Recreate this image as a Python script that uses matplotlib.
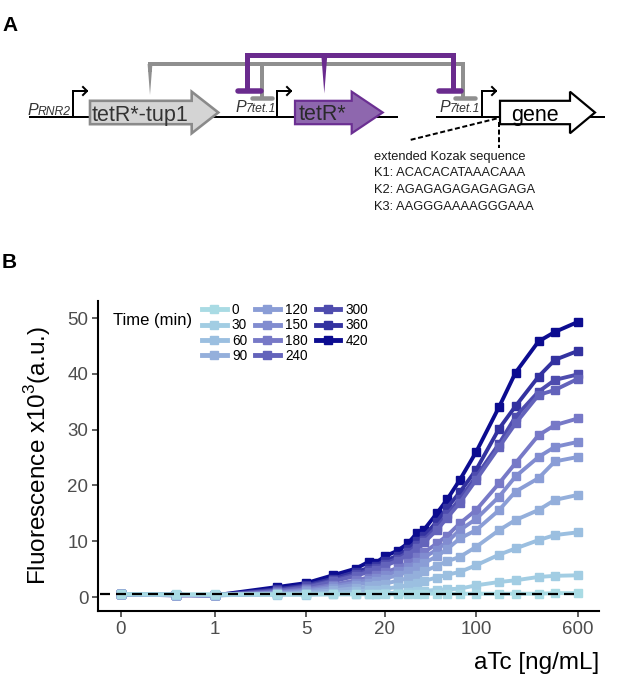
import matplotlib
matplotlib.use('Agg')
import matplotlib.pyplot as plt
from matplotlib.patches import Polygon
from matplotlib.lines import Line2D
from matplotlib.ticker import NullLocator

plt.rcParams['font.family'] = ['Liberation Sans', 'DejaVu Sans']

# ---------------- panel B data ----------------
atc = [0, 0.5, 1, 3, 5, 8, 12, 15, 17, 20, 25, 30, 35, 40, 50, 60, 75, 100, 150, 200, 300, 400, 600]
zero_pos = 0.19      # where the 0 ng/mL dose sits on the log axis
times = [0, 30, 60, 90, 120, 150, 180, 240, 300, 360, 420]

f0   = [0.5, 0.5, 0.5, 0.5, 0.5, 0.5, 0.5, 0.5, 0.5, 0.5, 0.5, 0.5, 0.5, 0.6, 0.6, 0.6, 0.6, 0.6, 0.6, 0.6, 0.6, 0.7, 0.7]
f30  = [0.5, 0.4, 0.4, 0.4, 0.4, 0.5, 0.5, 0.6, 0.6, 0.7, 0.8, 0.9, 1.0, 1.1, 1.3, 1.4, 1.5, 2.1, 2.7, 3.0, 3.6, 3.8, 3.9]
f60  = [0.5, 0.4, 0.3, 0.5, 0.6, 0.8, 1.0, 1.2, 1.3, 1.5, 1.8, 2.1, 2.5, 2.9, 3.5, 4.0, 4.5, 5.7, 7.6, 8.7, 10.2, 11.1, 11.6]
f90  = [0.5, 0.4, 0.3, 0.6, 0.8, 1.2, 1.6, 1.9, 2.1, 2.4, 2.9, 3.4, 4.0, 4.6, 5.6, 6.4, 7.2, 9.0, 12.0, 13.8, 15.6, 17.4, 18.3]
f120 = [0.5, 0.4, 0.3, 0.7, 1.0, 1.6, 2.2, 2.6, 2.9, 3.3, 3.9, 4.6, 5.4, 6.1, 7.3, 8.6, 10.5, 12.0, 15.6, 18.9, 21.3, 24.3, 25.1]
f150 = [0.5, 0.4, 0.3, 0.8, 1.2, 1.9, 2.6, 3.1, 3.4, 3.9, 4.6, 5.4, 6.3, 7.1, 8.5, 9.9, 12.0, 14.0, 18.0, 21.6, 25.1, 26.9, 27.8]
f180 = [0.5, 0.4, 0.3, 0.9, 1.4, 2.2, 3.0, 3.5, 3.9, 4.4, 5.2, 6.1, 7.1, 8.0, 9.6, 11.0, 13.2, 15.6, 20.4, 24.0, 29.0, 30.8, 32.0]
f240 = [0.5, 0.4, 0.3, 1.1, 1.7, 2.8, 3.8, 4.5, 4.9, 5.6, 6.5, 7.6, 8.8, 9.8, 12.0, 14.2, 16.9, 21.0, 26.9, 31.1, 36.2, 37.1, 39.1]
f300 = [0.5, 0.4, 0.3, 1.2, 1.9, 3.0, 4.1, 4.8, 5.2, 6.0, 6.9, 8.0, 9.3, 10.3, 12.6, 14.8, 17.6, 21.6, 27.5, 32.3, 36.8, 38.9, 39.9]
f360 = [0.5, 0.4, 0.3, 1.4, 2.1, 3.3, 4.5, 5.2, 5.6, 6.5, 7.4, 8.6, 10.0, 11.0, 13.5, 16.0, 18.8, 22.8, 30.2, 34.2, 39.5, 42.5, 44.1]
f420 = [0.5, 0.3, 0.3, 1.8, 2.5, 3.9, 5.1, 6.3, 6.1, 7.3, 8.3, 9.6, 11.4, 12.1, 15.0, 17.5, 21.0, 26.0, 34.1, 40.2, 45.8, 47.5, 49.3]
series = [f0, f30, f60, f90, f120, f150, f180, f240, f300, f360, f420]

background = 0.5
x_ticks = [0, 1, 5, 20, 100, 600]
y_ticks = [0, 10, 20, 30, 40, 50]

colors = ['#a9dbe4', '#a2cde3', '#9bbfe0', '#94afdb', '#8a9dd6', '#818cd0',
          '#7779c7', '#6363bb', '#4e4cae', '#3332a0', '#0c0c90']

# ---------------- panel A text ----------------
kozak_lines = ['extended Kozak sequence',
               'K1: ACACACATAAACAAA',
               'K2: AGAGAGAGAGAGAGA',
               'K3: AAGGGAAAAGGGAAA']

W, H = 617, 688
fig = plt.figure(figsize=(W / 100, H / 100), dpi=100)

# ======== panel A : circuit sketch, drawn in pixel units ========
axA = fig.add_axes([0, 1 - 235 / H, 1, 235 / H])
axA.set_xlim(0, W)
axA.set_ylim(235, 0)
axA.axis('off')

PX = 0.72            # points per pixel at 100 dpi
dna_y = 117.3
gray = '#8f8f8f'
purple = '#6a2b8e'

# DNA backbone
axA.plot([30, 397], [dna_y, dna_y], color='k', lw=2 * PX, zorder=1)
axA.plot([437, 604], [dna_y, dna_y], color='k', lw=2 * PX, zorder=1)


def promoter(x, tip, top=91):
    axA.plot([x, x, tip], [dna_y, top, top], color='k', lw=2 * PX,
             solid_joinstyle='miter', zorder=2)
    axA.plot([tip - 4, tip, tip - 4], [top - 4, top, top + 4], color='k',
             lw=2 * PX, zorder=2)


def cds(x0, xh, xt, fc, ec, lw):
    yc, hb, hh = 112.5, 11.7, 20.8
    pts = [(x0, yc - hb), (xh, yc - hb), (xh, yc - hh), (xt, yc),
           (xh, yc + hh), (xh, yc + hb), (x0, yc + hb)]
    axA.add_patch(Polygon(pts, closed=True, fc=fc, ec=ec, lw=lw,
                          joinstyle='miter', zorder=3))


promoter(72.7, 87)
promoter(276.7, 291)
promoter(481.7, 496)

cds(90, 191.7, 218.3, '#d4d4d4', '#8a8a8a', 2.6 * PX)
cds(295, 351.7, 382.7, '#8e67ae', '#6b2f92', 2.2 * PX)
cds(500, 570, 595, 'white', 'black', 2.2 * PX)

axA.text(140, 121.5, 'tetR*-tup1', fontsize=15.5, color='#333333',
         ha='center', va='baseline', zorder=4)
axA.text(322, 120.5, 'tetR*', fontsize=15.5, color='#2a2a2a',
         ha='center', va='baseline', zorder=4)
axA.text(535, 120.5, 'gene', fontsize=15.5, color='black',
         ha='center', va='baseline', zorder=4)

# promoter names
for x, base, sub in [(28, 115, 'RNR2'), (236, 111.7, '7tet.1'), (440, 111.7, '7tet.1')]:
    axA.text(x, base, 'P', fontsize=11.5, style='italic', color='#333333', va='baseline')
    axA.text(x + 9.5, base, sub, fontsize=8.7, style='italic', color='#333333', va='baseline')

# gray repression (tetR*-tup1)
axA.add_patch(Polygon([(147.6, 64), (152.4, 64), (150, 95)], closed=True,
                      fc=gray, ec='none', zorder=4))
axA.plot([150, 150, 463.3, 463.3], [70, 64, 64, 96], color=gray, lw=4 * PX,
         solid_joinstyle='miter', zorder=4)
axA.plot([262.3, 262.3], [64, 96], color=gray, lw=4 * PX, zorder=4)
for x0, x1 in [(252, 272), (455, 475)]:
    axA.plot([x0, x1], [98.3, 98.3], color=gray, lw=4.5 * PX,
             solid_capstyle='round', zorder=4)

# purple repression (tetR*)
axA.add_patch(Polygon([(321.3, 55), (327.3, 55), (324.3, 93.5)], closed=True,
                      fc=purple, ec='none', zorder=5))
axA.plot([246.7, 246.7, 453.3, 453.3], [89, 55, 55, 89], color=purple, lw=5 * PX,
         solid_joinstyle='miter', zorder=5)
for x0, x1 in [(238, 261), (439, 461)]:
    axA.plot([x0, x1], [90.5, 90.5], color=purple, lw=5.5 * PX,
             solid_capstyle='round', zorder=5)

# Kozak call-out
axA.plot([496.7, 410], [118.5, 140], color='k', lw=2 * PX, ls=(0, (2.5, 1.3)), zorder=6)
axA.plot([499.3, 499.3], [122, 147.5], color='k', lw=2 * PX, ls=(0, (2.5, 1.3)), zorder=6)
for i, line in enumerate(kozak_lines):
    axA.text(374, 160 + 16.5 * i, line, fontsize=9.3, color='#1a1a1a', va='baseline')

fig.text(2 / W, 1 - 31 / H, 'A', fontsize=15, fontweight='bold', va='baseline')
fig.text(2 / W, 1 - 268 / H, 'B', fontsize=15, fontweight='bold', va='baseline')

# ======== panel B : dose response ========
ax = fig.add_axes([98 / W, 1 - 611 / H, (599 - 98) / W, (611 - 300.7) / H])
xpos = [zero_pos if a == 0 else a for a in atc]

for t, vals, c in reversed(list(zip(times, series, colors))):
    ax.plot(xpos, vals, color=c, lw=2.8, marker='s', ms=6, zorder=3)

ax.axhline(background, xmin=0.004, xmax=0.962, color='black', lw=1.6,
           ls=(0, (4.5, 2.7)), zorder=10)

ax.set_xscale('log')
ax.set_xlim(0.1276, 871)
ax.set_ylim(-2.5, 53.1)
ax.set_xticks([zero_pos if t == 0 else t for t in x_ticks])
ax.set_xticklabels([str(t) for t in x_ticks])
ax.xaxis.set_minor_locator(NullLocator())
ax.set_yticks(y_ticks)

for s in ['top', 'right']:
    ax.spines[s].set_visible(False)
for s in ['left', 'bottom']:
    ax.spines[s].set_linewidth(1.5)
    ax.spines[s].set_color('black')
ax.tick_params(length=4, width=1.1, color='#333333', labelcolor='#4d4d4d',
               labelsize=13.5, pad=3)

ax.set_ylabel(r'Fluorescence x10$^{\mathregular{3}}$(a.u.)', fontsize=17.5, labelpad=10)
ax.set_xlabel('aTc [ng/mL]', fontsize=17.5, loc='right', labelpad=10)

handles = [Line2D([], [], color=c, lw=3.5, marker='s', ms=5.5) for c in colors]
fig.legend(handles, [str(t) for t in times], ncol=3, loc='upper left',
           bbox_to_anchor=(202 / W, 1 - 303 / H), frameon=False, fontsize=9.8,
           handlelength=1.8, handletextpad=0.4, columnspacing=0.6,
           labelspacing=0.1, borderpad=0, borderaxespad=0)
fig.text(113 / W, 1 - 325 / H, 'Time (min)', fontsize=12, va='baseline')

fig.savefig('out.png', dpi=100)
